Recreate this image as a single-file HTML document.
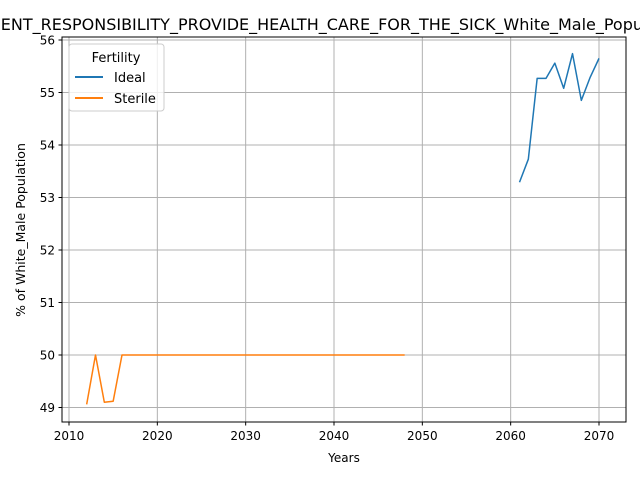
<!DOCTYPE html>
<html><head><meta charset="utf-8"><style>
body{margin:0;background:#fff;font-family:"Liberation Sans","DejaVu Sans",sans-serif}
</style></head><body>
<svg width="640" height="480" xmlns="http://www.w3.org/2000/svg" font-family="DejaVu Sans, Liberation Sans, sans-serif">
<g id="grid"></g>
<g id="series"></g>
<rect x="62" y="37" width="564" height="385" fill="none" stroke="#000" stroke-width="1"/>
<g id="ticks"></g>
<text x="303" y="30" text-anchor="middle" font-size="16">GOVERNMENT_RESPONSIBILITY_PROVIDE_HEALTH_CARE_FOR_THE_SICK_White_Male_Population</text>
<text x="344" y="462" text-anchor="middle" font-size="12">Years</text>
<text x="25" y="230" text-anchor="middle" font-size="12.5" transform="rotate(-90 25 230)">% of White_Male Population</text>
<g>
<rect x="69" y="44" width="95" height="67" rx="3" fill="#fff" fill-opacity="0.8" stroke="#ccc"/>
<text x="116" y="62" text-anchor="middle" font-size="13">Fertility</text>
<line x1="75" y1="77" x2="103" y2="77" stroke="#1f77b4" stroke-width="2"/>
<text x="114" y="82" font-size="13">Ideal</text>
<line x1="75" y1="98" x2="103" y2="98" stroke="#ff7f0e" stroke-width="2"/>
<text x="114" y="103" font-size="13">Sterile</text>
</g>
</svg>
<script>
const xTicks=[2010,2020,2030,2040,2050,2060,2070];
const yTicks=[49,50,51,52,53,54,55,56];
const idealYears=[2061,2062,2063,2064,2065,2066,2067,2068,2069,2070];
const idealValues=[53.29,53.73,55.27,55.27,55.56,55.08,55.74,54.85,55.29,55.65];
const sterileYears=[2012,2013,2014,2015,2016,2017,2018,2019,2020,2021,2022,2023,2024,2025,2026,2027,2028,2029,2030,2031,2032,2033,2034,2035,2036,2037,2038,2039,2040,2041,2042,2043,2044,2045,2046,2047,2048];
const sterileValues=[49.06,50,49.1,49.12,50,50,50,50,50,50,50,50,50,50,50,50,50,50,50,50,50,50,50,50,50,50,50,50,50,50,50,50,50,50,50,50,50];
const NS='http://www.w3.org/2000/svg';
const xs=v=>69+(v-2010)*(530/60);
const ys=v=>40+(56-v)*(367.5/7);
const grid=document.getElementById('grid'),ticks=document.getElementById('ticks'),series=document.getElementById('series');
function mk(tag,attrs,parent){const e=document.createElementNS(NS,tag);for(const k in attrs)e.setAttribute(k,attrs[k]);parent.appendChild(e);return e;}
xTicks.forEach(t=>{const x=xs(t);
 const g=mk('line',{x1:x,x2:x,y1:37,y2:422,stroke:'#b0b0b0','stroke-width':1},grid);
 
 
 mk('line',{x1:x,x2:x,y1:422,y2:425.5,stroke:'#000'},ticks);
 const tx=mk('text',{x:x,y:440,'text-anchor':'middle','font-size':12},ticks);tx.textContent=t;
 
 
});
yTicks.forEach(t=>{const y=ys(t);
 const g=mk('line',{x1:62,x2:626,y1:y,y2:y,stroke:'#b0b0b0','stroke-width':1},grid);
 
 
 mk('line',{x1:58.5,x2:62,y1:y,y2:y,stroke:'#000'},ticks);
 const tx=mk('text',{x:55,y:y+4.5,'text-anchor':'end','font-size':12},ticks);tx.textContent=t;
 
 
});
function line(xa,va,color,name){
 const p=mk('polyline',{points:xa.map((x,i)=>xs(x)+','+ys(va[i])).join(' '),fill:'none',stroke:color,'stroke-width':1.5,'stroke-linejoin':'round'},series);
 
 
}
line(idealYears,idealValues,'#1f77b4','ideal-line');
line(sterileYears,sterileValues,'#ff7f0e','sterile-line');
</script>
</body></html>
